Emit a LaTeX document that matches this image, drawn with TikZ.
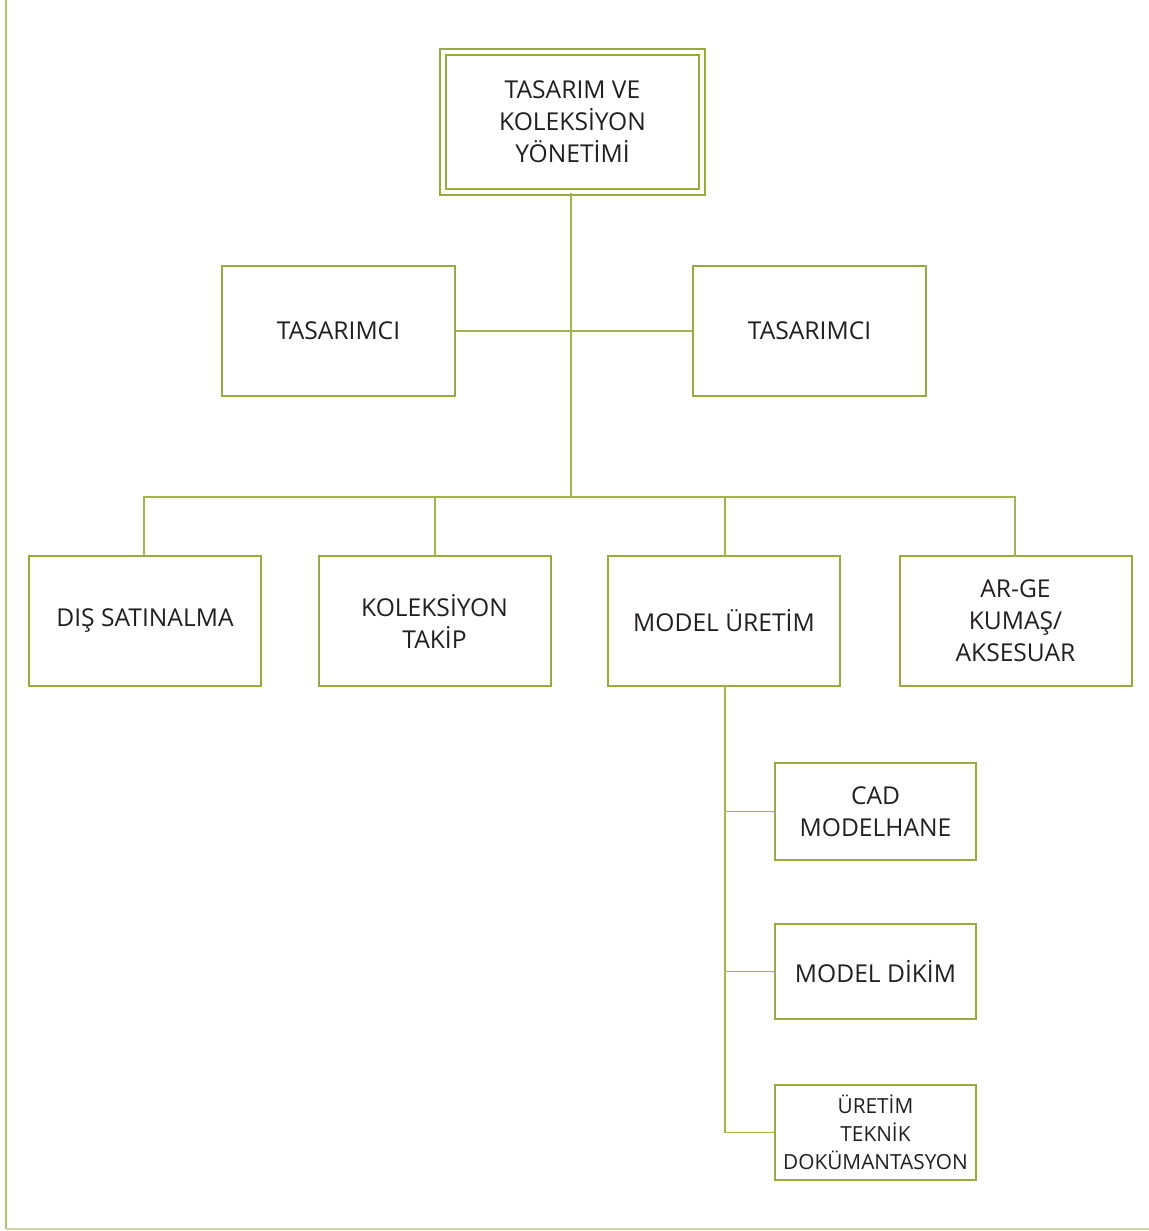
\documentclass[tikz,border=0pt]{standalone}
\usepackage{fontspec}
\setmainfont{Open Sans}
\definecolor{olivebox}{RGB}{150,172,62}
\definecolor{oliveline}{RGB}{160,180,80}
\definecolor{framel}{RGB}{178,196,112}
\definecolor{frameb}{RGB}{205,216,160}
\definecolor{txt}{RGB}{35,31,32}
\tikzset{
  unitbox/.style={draw=olivebox, line width=1pt, fill=white, align=center, text=txt,
    inner sep=0pt, font=\fontsize{12.3}{16}\selectfont},
  rowbox/.style={unitbox, minimum width=116pt, minimum height=65pt},
  subbox/.style={unitbox, minimum width=100.5pt},
  link/.style={draw=oliveline, line width=0.9pt},
}
\begin{document}
\begin{tikzpicture}[x=0.5pt,y=-0.5pt]
\useasboundingbox (0,0) rectangle (1149,1231);
% page frame
\draw[framel, line width=1.2pt] (6,0) -- (6,1229);
\draw[frameb, line width=1pt] (6,1229) -- (1149,1229);

% head of department (double frame)
\node[unitbox, double=white, double distance=2pt, minimum width=129.5pt, minimum height=70pt]
  (head) at (572.5,122) {TASARIM VE\\KOLEKSİYON\\YÖNETİMİ};

% designers
\node[unitbox, minimum width=116.5pt, minimum height=65pt] (des1) at (338.5,331) {TASARIMCI};
\node[unitbox, minimum width=116.5pt, minimum height=65pt] (des2) at (809.5,331) {TASARIMCI};

% units
\node[rowbox] (dis) at (145,621) {DIŞ SATINALMA};
\node[rowbox] (kol) at (434.5,621) {KOLEKSİYON\\TAKİP};
\node[rowbox] (mod) at (724,621) {MODEL ÜRETİM};
\node[rowbox] (arge) at (1015.5,621) {AR-GE\\KUMAŞ/\\AKSESUAR};

% model production sub-units
\node[subbox, minimum height=48.5pt] (cad) at (875.5,811.5) {CAD\\MODELHANE};
\node[subbox, minimum height=47.5pt] (dik) at (875.5,971.5) {MODEL DİKİM};
\node[subbox, minimum height=47.5pt, font=\fontsize{10.4}{14}\selectfont] (tek) at (875.5,1132.5) {ÜRETİM\\TEKNİK\\DOKÜMANTASYON};

% connectors
\coordinate (bus) at (571,497);
\coordinate (modx) at (725,686);
\draw[link] (head.south -| bus) -- (bus);
\draw[link] (des1.east) -- (des2.west);
\draw[link] (144,556) |- (bus) -| (1015,556);
\draw[link] (435,556) -- (435,497);
\draw[link] (725,556) -- (725,497);
\draw[link] (modx) -- (modx |- tek.west);
\draw[link] (modx |- cad.west) -- (cad.west);
\draw[link] (modx |- dik.west) -- (dik.west);
\draw[link] (modx |- tek.west) -- (tek.west);
\end{tikzpicture}
\end{document}
